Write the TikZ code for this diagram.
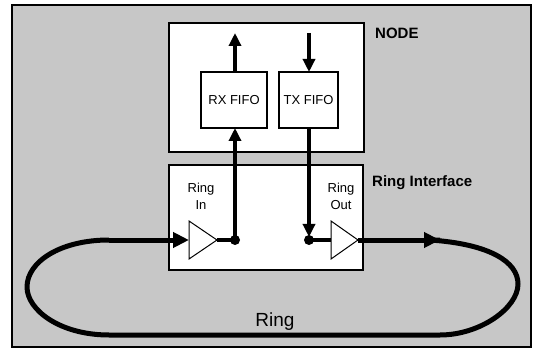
\documentclass[tikz,border=0pt]{standalone}
\usepackage{fontspec}
\setmainfont{Liberation Sans}
\usetikzlibrary{arrows.meta}
\begin{document}
\begin{tikzpicture}[x=1pt,y=-1pt,
  box/.style={draw,fill=white,line width=1.6pt,inner sep=0pt,outer sep=0pt,anchor=north west},
  bus/.style={line width=4pt},
  ringline/.style={line width=5pt},
  tip/.style={-{Triangle[width=12pt,length=13pt]}},
  bigtip/.style={-{Triangle[width=15pt,length=16pt]}},
  lbl/.style={font=\fontsize{13}{14}\selectfont,inner sep=0pt},
  blbl/.style={font=\fontsize{15}{16}\selectfont\bfseries,inner sep=0pt,anchor=west},
  dot/.style={circle,fill,inner sep=0pt,minimum size=10pt},
  buf/.style={draw,fill=white,line width=1pt,line join=miter}
]
\useasboundingbox (0,0) rectangle (534,352);
\path[fill=white] (0,0) rectangle (534,352);
\draw[fill=black!22,line width=2.5pt] (12,5) rectangle (531,347);

% boxes
\node[box,minimum width=195pt,minimum height=129pt] (nodebox) at (169,23) {};
\node[box,minimum width=66pt,minimum height=56pt,lbl] (rx) at (201,72) {};
\node[lbl] at (rx.center) {RX FIFO};
\node[box,minimum width=59pt,minimum height=56pt] (tx) at (279,72) {};
\node[lbl] at (tx.center) {TX FIFO};
\node[box,minimum width=194pt,minimum height=105pt] (ri) at (169,165) {};

% labels
\node[blbl] (nodelbl) at (375,33) {NODE};
\node[blbl] (rilbl) at (372,183) {Ring Interface};
\node[lbl] (inlbl1) at (201,189) {Ring};
\node[lbl] (inlbl2) at (201,205) {In};
\node[lbl] (outlbl1) at (341,189) {Ring};
\node[lbl] (outlbl2) at (341,205) {Out};
\node[font=\fontsize{19}{20}\selectfont,inner sep=0pt] (ringlbl) at (275,322) {Ring};

% coordinates
\coordinate (rxup) at (235,33);
\coordinate (txdown) at (309,33);
\coordinate (inL) at (189,240);
\coordinate (inT) at (217,240);
\coordinate (outL) at (331,240);
\coordinate (outT) at (358,240);
\coordinate (ar) at (440,240);
\coordinate (rl) at (109,240);

% node connectors
\draw[bus,tip] (rx.north -| rxup) -- (rxup);
\draw[bus,tip] (txdown) -- (tx.north -| txdown);

% dots
\node[dot] (dotin) at (235,240) {};
\node[dot] (dotout) at (309,240) {};

\draw[bus,tip] (dotin.center) -- (rx.south -| dotin);
\draw[bus,tip,shorten >=3pt] (tx.south -| dotout) -- (dotout.center);
\draw[bus] (inT) -- (dotin.center);
\draw[bus] (dotout.center) -- (outL);

% ring loop
\draw[ringline,line join=round] (ar) -- (430,240)
  .. controls (490,244) and (518,262) .. (518,284)
  .. controls (518,308) and (480,335) .. (440,335) -- (109,335)
  .. controls (60,335) and (27,310) .. (27,287)
  .. controls (27,262) and (60,240) .. (rl);
\draw[ringline,bigtip] (rl) -- (inL);
\draw[ringline,bigtip] (outT) -- (ar);

% buffers
\draw[buf] (189,221) -- (inT) -- (189,259) -- cycle;
\draw[buf] (331,221) -- (outT) -- (331,259) -- cycle;
\end{tikzpicture}
\end{document}
